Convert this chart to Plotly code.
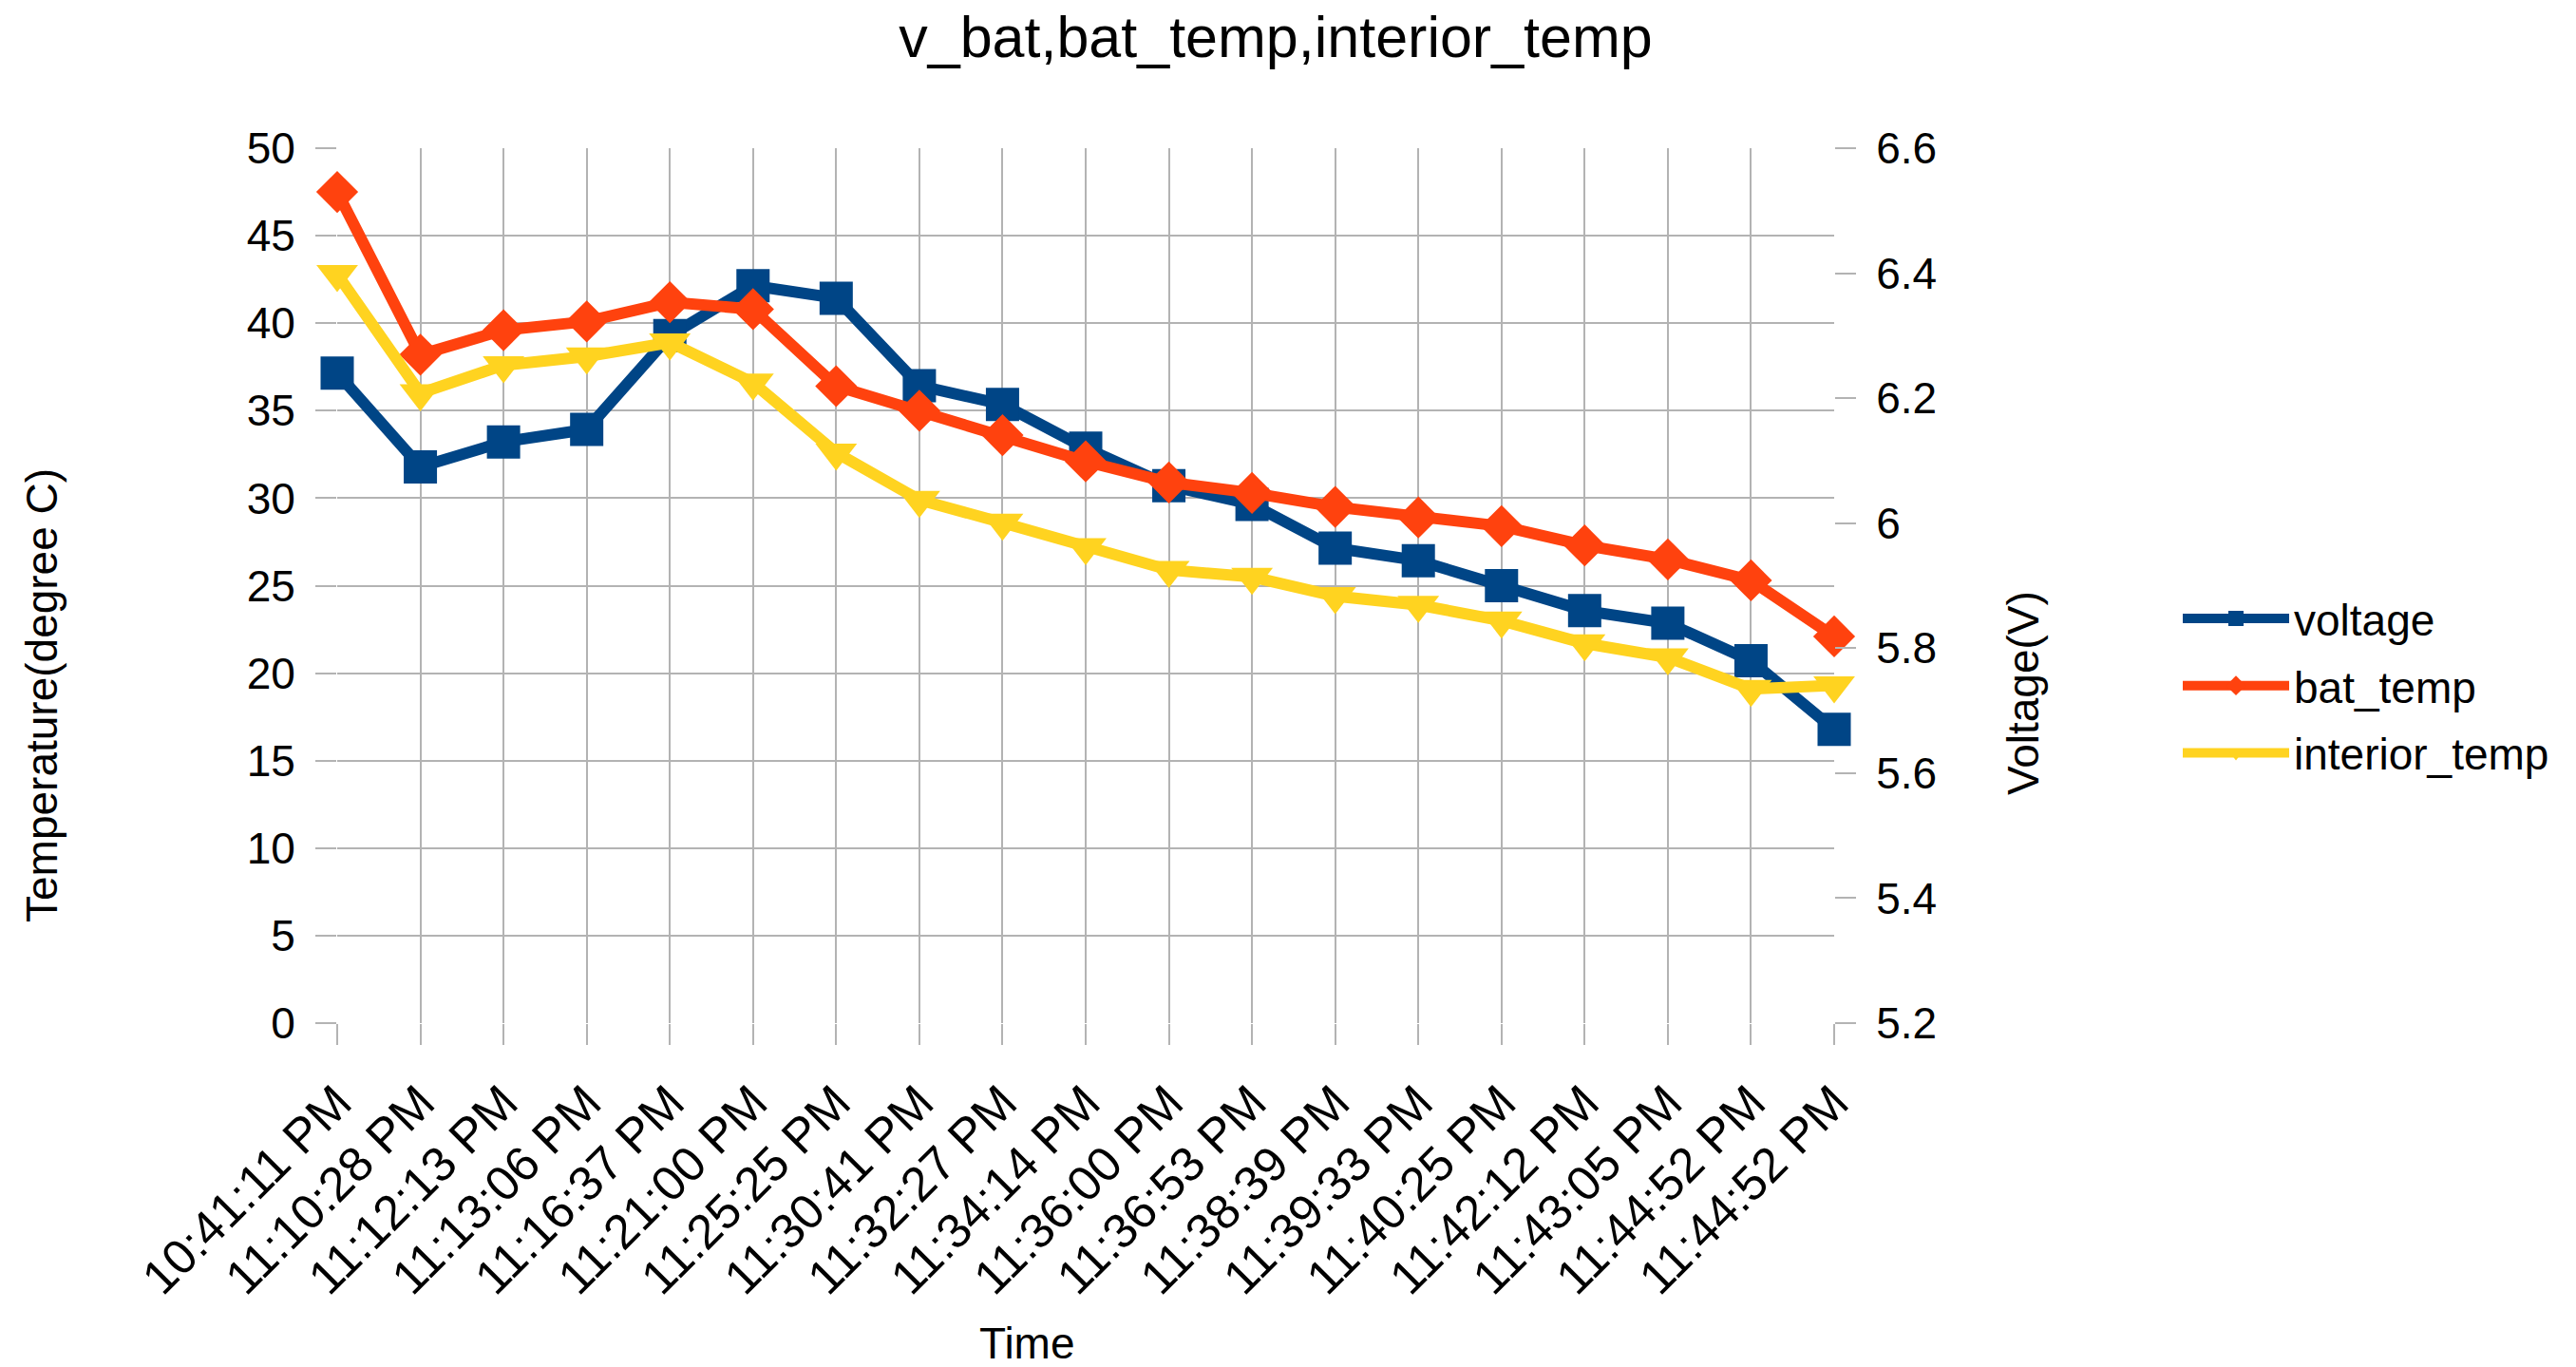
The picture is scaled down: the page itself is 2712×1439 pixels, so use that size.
import plotly.graph_objects as go

# ---- data ----
times = ["10:41:11 PM", "11:10:28 PM", "11:12:13 PM", "11:13:06 PM", "11:16:37 PM",
         "11:21:00 PM", "11:25:25 PM", "11:30:41 PM", "11:32:27 PM", "11:34:14 PM",
         "11:36:00 PM", "11:36:53 PM", "11:38:39 PM", "11:39:33 PM", "11:40:25 PM",
         "11:42:12 PM", "11:43:05 PM", "11:44:52 PM", "11:44:52 PM"]
voltage = [6.24, 6.09, 6.13, 6.15, 6.30, 6.38, 6.36, 6.22, 6.19, 6.12,
           6.06, 6.03, 5.96, 5.94, 5.90, 5.86, 5.84, 5.78, 5.67]
bat_temp = [47.5, 38.2, 39.6, 40.1, 41.2, 40.8, 36.4, 35.0, 33.6, 32.1,
            30.9, 30.3, 29.5, 28.9, 28.4, 27.3, 26.5, 25.3, 22.1]
interior_temp = [42.8, 36.0, 37.6, 38.1, 38.9, 36.6, 32.6, 29.9, 28.6, 27.2,
                 25.9, 25.5, 24.4, 23.9, 23.0, 21.7, 20.9, 19.1, 19.3]
temp_ticks = [0, 5, 10, 15, 20, 25, 30, 35, 40, 45, 50]
volt_ticks = [5.2, 5.4, 5.6, 5.8, 6.0, 6.2, 6.4, 6.6]
volt_ticktext = ["5.2", "5.4", "5.6", "5.8", "6", "6.2", "6.4", "6.6"]

FONT = "Liberation Sans, Arial, sans-serif"
GRID = "#b3b3b3"
x = list(range(len(times)))

fig = go.Figure()
fig.add_trace(go.Scatter(
    x=x, y=voltage, name="voltage", yaxis="y", mode="lines+markers", legendgroup="a",
    line=dict(color="#004586", width=12),
    marker=dict(symbol="square", size=35, color="#004586"),
    cliponaxis=False))
fig.add_trace(go.Scatter(
    x=x, y=bat_temp, name="bat_temp", yaxis="y2", mode="lines+markers", legendgroup="b",
    line=dict(color="#ff420e", width=12),
    marker=dict(symbol="diamond", size=34, color="#ff420e"),
    cliponaxis=False))
fig.add_trace(go.Scatter(
    x=x, y=interior_temp, name="interior_temp", yaxis="y2", mode="lines+markers", legendgroup="c",
    line=dict(color="#ffd320", width=12),
    marker=dict(symbol="triangle-down", size=38, color="#ffd320"),
    cliponaxis=False))

W, H = 2712, 1439
L, R, T, B = 355, 1931, 156, 1077
pw, ph = R - L, B - T

def px(xp):
    return (xp - L) / pw

def py(yp):
    return (B - yp) / ph

fig.update_layout(
    width=W, height=H,
    margin=dict(l=L, r=W - R, t=T, b=H - B, pad=0),
    paper_bgcolor="white", plot_bgcolor="white",
    font=dict(family=FONT, size=46, color="#000000"),
    title=dict(text="v_bat,bat_temp,interior_temp", x=1343 / W, xanchor="center",
               y=1 - 39 / H, yanchor="middle", font=dict(size=61, family=FONT, color="#000000")),
    xaxis=dict(range=[0, 18], tickmode="array", tickvals=x, ticktext=times, tickangle=-45,
               showgrid=True, gridcolor=GRID, gridwidth=2, zeroline=False, showline=False,
               ticks="outside", ticklen=22, tickwidth=2, tickcolor=GRID,
               ticklabelstandoff=10, tickfont=dict(size=51)),
    yaxis=dict(range=[5.2, 6.6], side="right", tickmode="array", tickvals=volt_ticks,
               ticktext=volt_ticktext, showgrid=False, zeroline=False, showline=False,
               ticks="outside", ticklen=22, tickwidth=2, tickcolor=GRID,
               ticklabelstandoff=12, tickfont=dict(size=46)),
    yaxis2=dict(range=[0, 50], side="left", overlaying="y", tickmode="array", tickvals=temp_ticks,
                showgrid=True, gridcolor=GRID, gridwidth=2, zeroline=False, showline=False,
                ticks="outside", ticklen=22, tickwidth=2, tickcolor=GRID,
                ticklabelstandoff=12, tickfont=dict(size=46)),
    legend=dict(x=px(2293), y=py(722), xanchor="left", yanchor="middle",
                font=dict(size=46, family=FONT), itemwidth=112, bgcolor="rgba(0,0,0,0)",
                traceorder="grouped", tracegroupgap=8, itemsizing="trace"),
    showlegend=True,
    annotations=[
        dict(text="Temperature(degree C)", textangle=-90, x=px(44), y=py(732),
             xref="paper", yref="paper", showarrow=False, xanchor="center", yanchor="middle",
             font=dict(size=46, family=FONT)),
        dict(text="Voltage(V)", textangle=-90, x=px(2130), y=py(730),
             xref="paper", yref="paper", showarrow=False, xanchor="center", yanchor="middle",
             font=dict(size=46, family=FONT)),
        dict(text="Time", x=px(1081), y=py(1414),
             xref="paper", yref="paper", showarrow=False, xanchor="center", yanchor="middle",
             font=dict(size=46, family=FONT)),
    ],
)

fig.write_html("out.html")
